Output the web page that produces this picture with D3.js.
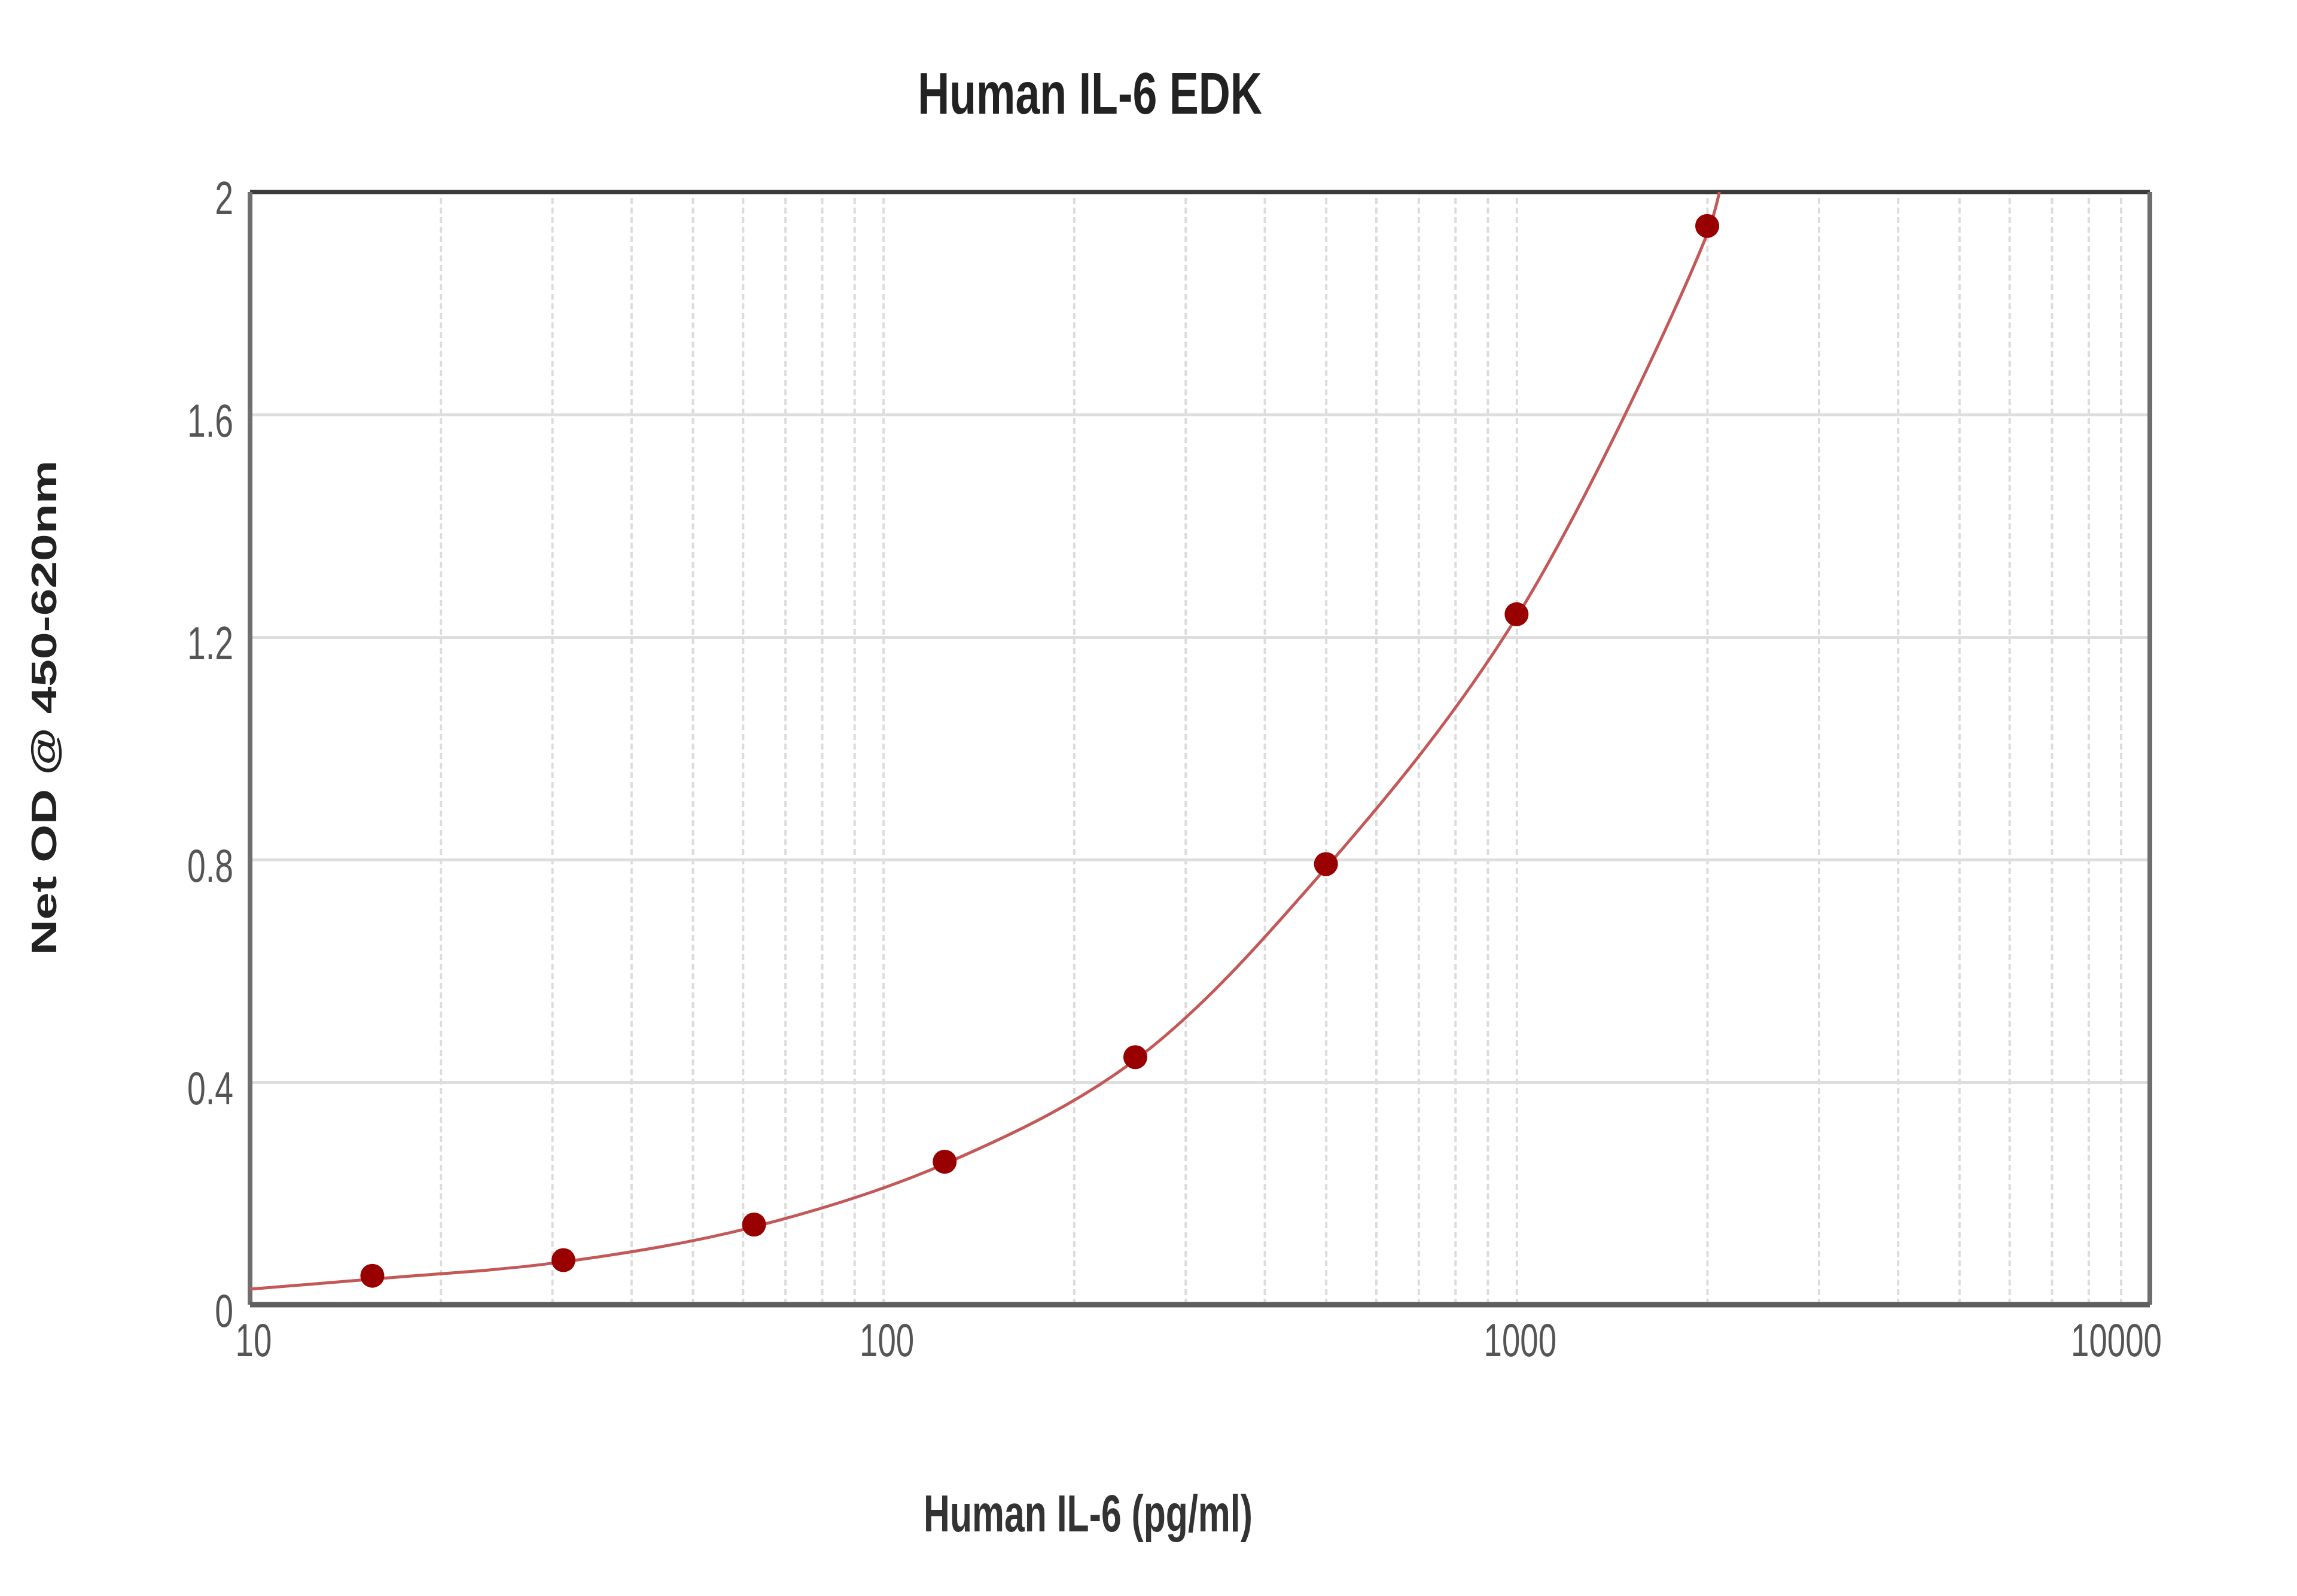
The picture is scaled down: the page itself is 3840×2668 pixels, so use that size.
<!DOCTYPE html>
<html>
<head>
<meta charset="utf-8">
<script src="https://cdn.jsdelivr.net/npm/d3@7"></script>
<style>
  body { margin: 0; background: #fff; }
  svg { display: block; }
</style>
</head>
<body>
<div id="chart"></div>
<script>
// standards (pg/ml, net OD)
const concentrations = [15.6, 31.25, 62.5, 125, 250, 500, 1000, 2000];
const netOD = [0.052, 0.080, 0.144, 0.257, 0.445, 0.792, 1.241, 1.939];

// points
const curveConc = [10, 15.6, 31.25, 62.5, 125, 250, 500, 1000, 2000, 2090];
const curveOD = [0.028, 0.046, 0.077, 0.140, 0.253, 0.440, 0.785, 1.236, 1.925, 2.0];

const yTicks = [0, 0.4, 0.8, 1.2, 1.6, 2];
const yTickLabels = ["0", "0.4", "0.8", "1.2", "1.6", "2"];
const xTicks = [10, 100, 1000, 10000];
const xTickLabels = ["10", "100", "1000", "10000"];
const xMinorGrid = [20, 30, 40, 50, 60, 70, 80, 90, 200, 300, 400, 500, 600, 700, 800, 900,
  2000, 3000, 4000, 5000, 6000, 7000, 8000, 9000];

const chartTitle = "Human IL-6 EDK";
const xTitle = "Human IL-6 (pg/ml)";
const yTitle = "Net OD @ 450-620nm";

const W = 3840, H = 2668;
const margin = { top: 321, right: 246, bottom: 487, left: 418 };
const width = W - margin.left - margin.right;
const height = H - margin.top - margin.bottom;
const squeeze = 0.71; // the picture is narrow horizontally

const svg = d3.select("#chart").append("svg")
  .attr("width", W)
  .attr("height", H)
  .style("font-family", "'Liberation Sans', Arial, sans-serif");

const g = svg.append("g")
  .attr("transform", `translate(${margin.left},${margin.top})`);

const x = d3.scaleLog().domain([10, 10000]).range([0, width]);
const y = d3.scaleLinear().domain([0, 2]).range([height, 0]);

// vertical grid (dashed, light)
g.append("g")
  .attr("class", "grid-x")
  .attr("transform", `translate(0,${height})`)
  .call(d3.axisBottom(x).tickValues(xMinorGrid.concat([100, 1000])).tickSize(-height).tickFormat(""))
  .call(a => a.select(".domain").remove())
  .call(a => a.selectAll("line")
    .attr("stroke", "#dcdcdc")
    .attr("stroke-width", 4)
    .attr("stroke-dasharray", "10,6"));

// horizontal grid
g.append("g")
  .attr("class", "grid-y")
  .call(d3.axisLeft(y).tickValues(yTicks.slice(1, -1)).tickSize(-width).tickFormat(""))
  .call(a => a.select(".domain").remove())
  .call(a => a.selectAll("line")
    .attr("stroke", "#dedede")
    .attr("stroke-width", 5));

// frame
g.append("line").attr("x1", 0).attr("x2", width).attr("y1", 0).attr("y2", 0)
  .attr("stroke", "#3a3a3a").attr("stroke-width", 7);
g.append("line").attr("x1", width).attr("x2", width).attr("y1", 0).attr("y2", height)
  .attr("stroke", "#6e6e6e").attr("stroke-width", 8);
g.append("line").attr("x1", 0).attr("x2", 0).attr("y1", 0).attr("y2", height)
  .attr("stroke", "#6e6e6e").attr("stroke-width", 8);
g.append("line").attr("x1", 0).attr("x2", width).attr("y1", height).attr("y2", height)
  .attr("stroke", "#5e5e5e").attr("stroke-width", 9);

// squeezed text helper
function label(parent, str, px, py, opts) {
  const t = parent.append("text")
    .attr("transform", `translate(${px},${py}) scale(${opts.sx || squeeze},1)` + (opts.rotate ? ` rotate(${opts.rotate})` : ""))
    .attr("text-anchor", opts.anchor || "middle")
    .attr("font-size", opts.size)
    .attr("font-weight", opts.weight || "normal")
    .attr("fill", opts.fill || "#555")
    .text(str);
  return t;
}

// y tick labels
yTicks.forEach((v, i) => {
  label(g, yTickLabels[i], -28, y(v) + 37, { size: 78, anchor: "end", fill: "#555" });
});

// x tick labels
xTicks.forEach((v, i) => {
  const last = i === xTicks.length - 1;
  label(g, xTickLabels[i], x(v) + (last ? 20 : 6), height + 86,
    { size: 77, anchor: last ? "end" : "middle", fill: "#555" });
});

// titles
label(svg, chartTitle, 1822, 190, { size: 98, weight: "bold", fill: "#222", sx: 0.75 });
label(svg, xTitle, 1819, 2560, { size: 88, weight: "bold", fill: "#333", sx: 0.69 });
svg.append("text")
  .attr("transform", `translate(94,1183) scale(0.72,1) rotate(-90)`)
  .attr("text-anchor", "middle")
  .attr("font-size", 82)
  .attr("font-weight", "bold")
  .attr("fill", "#222")
  .text(yTitle);

// fitted curve, clipped to plot area
g.append("clipPath").attr("id", "plot-clip")
  .append("rect").attr("width", width).attr("height", height);

const curveData = curveConc.map((c, i) => ({ c, v: curveOD[i] }));
g.append("path")
  .datum(curveData)
  .attr("clip-path", "url(#plot-clip)")
  .attr("fill", "none")
  .attr("stroke", "#c45858")
  .attr("stroke-width", 5)
  .attr("d", d3.line()
    .x(d => x(d.c))
    .y(d => y(d.v))
    .curve(d3.curveCatmullRom.alpha(0.5)));

// standards
const pts = concentrations.map((c, i) => ({ c, v: netOD[i] }));
g.selectAll(".std-point")
  .data(pts)
  .enter()
  .append("circle")
  .attr("class", "std-point")
  .attr("cx", d => x(d.c))
  .attr("cy", d => y(d.v))
  .attr("r", 20)
  .attr("fill", "#990000");
</script>
</body>
</html>
